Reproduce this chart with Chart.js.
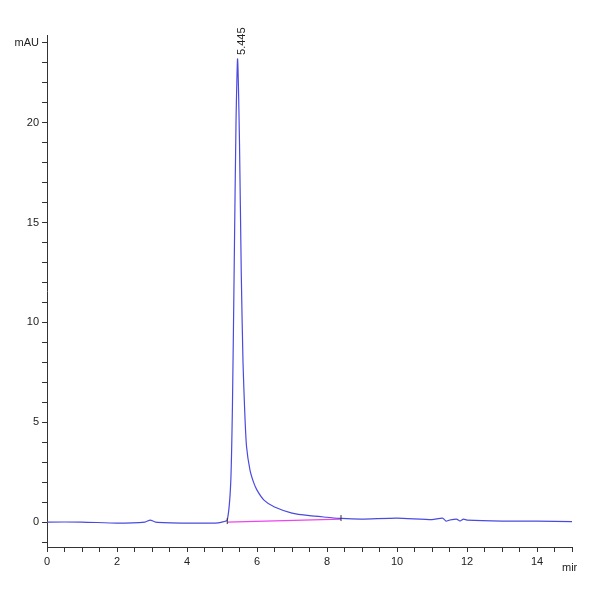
<!DOCTYPE html>
<html>
<head>
<meta charset="utf-8">
<script src="https://cdn.jsdelivr.net/npm/chart.js@4/dist/chart.umd.min.js"></script>
<style>
body { margin: 0; background: #fff; }
#wrap { width: 600px; height: 600px; }
</style>
</head>
<body>
<div id="wrap"><canvas id="c"></canvas></div>
<script>
var times = [0, 1, 2, 2.8, 2.95, 3.1, 4, 4.8, 5.0, 5.15, 5.25, 5.3, 5.35, 5.4, 5.445, 5.5, 5.55, 5.6, 5.65, 5.7, 5.8, 5.9, 6.0, 6.2, 6.5, 7, 7.5, 8, 8.4, 9, 10, 11, 11.3, 11.4, 11.5, 11.7, 11.8, 11.9, 12, 13, 14, 15];
var signal = [0, 0, -0.05, 0, 0.1, 0, -0.05, -0.05, 0, 0.1, 2, 6, 13, 20, 23.2, 19, 12.5, 8, 5.5, 3.8, 2.6, 2.0, 1.6, 1.1, 0.75, 0.45, 0.32, 0.24, 0.18, 0.15, 0.2, 0.12, 0.2, 0.05, 0.1, 0.15, 0.05, 0.15, 0.1, 0.05, 0.05, 0.02];
var baseTimes = [5.15, 8.4];
var baseValues = [0, 0.15];
var peakLabel = '5.445';

var annot = {
    id: 'annot',
    afterDatasetsDraw: function (chart) {
        var ctx = chart.ctx, x = chart.scales.x, y = chart.scales.y;
        ctx.save();
        ctx.fillStyle = '#222';
        ctx.font = '11px "Liberation Sans", Arial';
        // peak label
        ctx.save();
        ctx.translate(x.getPixelForValue(5.445) + 4, y.getPixelForValue(23.4));
        ctx.rotate(-Math.PI / 2);
        ctx.textAlign = 'left';
        ctx.textBaseline = 'middle';
        ctx.fillText(peakLabel, 0, 0);
        ctx.restore();
        // integration marks
        ctx.strokeStyle = '#333';
        ctx.lineWidth = 1;
        baseTimes.forEach(function (t, i) {
            var px = x.getPixelForValue(t), py = y.getPixelForValue(baseValues[i]);
            ctx.beginPath(); ctx.moveTo(px, py - 4); ctx.lineTo(px, py + 2); ctx.stroke();
        });
        ctx.textBaseline = 'middle';
        ctx.textAlign = 'right';
        ctx.fillText('mAU', chart.chartArea.left - 8, chart.chartArea.top + 8);
        ctx.textAlign = 'left';
        ctx.textBaseline = 'top';
        ctx.fillText('mir', chart.chartArea.right - 10, chart.chartArea.bottom + 15);
        ctx.restore();
    }
};

new Chart(document.getElementById('c'), {
    type: 'line',
    data: {
        datasets: [
            {
                data: times.map(function (t, i) { return { x: t, y: signal[i] }; }),
                borderColor: '#4a4ae0',
                borderWidth: 1.2,
                pointRadius: 0,
                tension: 0.2
            },
            {
                data: baseTimes.map(function (t, i) { return { x: t, y: baseValues[i] }; }),
                borderColor: '#ee44ee',
                borderWidth: 1.2,
                pointRadius: 0
            }
        ]
    },
    options: {
        responsive: true,
        maintainAspectRatio: false,
        animation: false,
        layout: { padding: { top: 35, right: 28, left: 0, bottom: 0 } },
        plugins: { legend: { display: false }, tooltip: { enabled: false } },
        scales: {
            x: {
                type: 'linear', min: 0, max: 15,
                afterFit: function (s) { s.height = 53; },
                grid: { drawOnChartArea: false, tickLength: 5, color: '#333' },
                border: { color: '#333' },
                ticks: {
                    stepSize: 0.5, autoSkip: false, maxRotation: 0,
                    color: '#222', font: { size: 11, family: '"Liberation Sans", Arial' },
                    callback: function (v) { return (v % 2 === 0 && v < 15) ? v : ''; }
                }
            },
            y: {
                min: -1.25, max: 24.4,
                afterFit: function (s) { s.width = 47; },
                grid: { drawOnChartArea: false, tickLength: 5, color: '#333' },
                border: { color: '#333' },
                ticks: {
                    stepSize: 1, autoSkip: false,
                    color: '#222', font: { size: 11, family: '"Liberation Sans", Arial' },
                    callback: function (v) { return (v % 5 === 0 && v >= 0) ? v : ''; }
                },
                afterBuildTicks: function (s) {
                    s.ticks = [];
                    for (var v = -1; v <= 24; v++) s.ticks.push({ value: v });
                }
            }
        }
    },
    plugins: [annot]
});
</script>
</body>
</html>
